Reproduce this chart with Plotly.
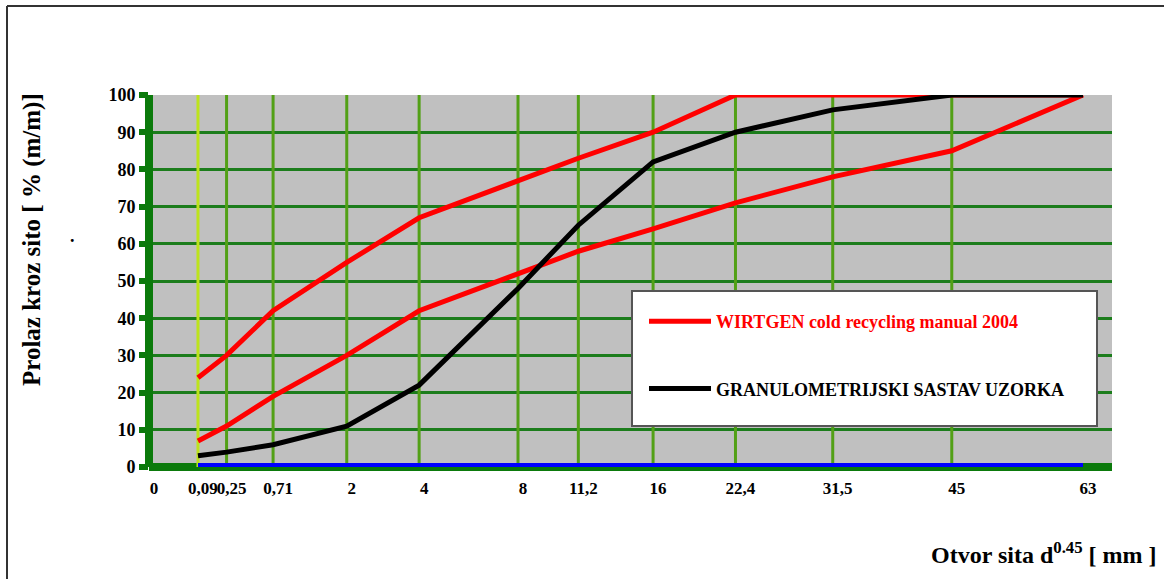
import plotly.graph_objects as go

# ---- data ----
sieve_sizes = [0.09, 0.25, 0.71, 2, 4, 8, 11.2, 16, 22.4, 31.5, 45, 63]
wirtgen_upper = [24, 30, 42, 55, 67, 77, 83, 90, 100, 100, 100, 100]
wirtgen_lower = [7, 11, 19, 30, 42, 52, 58, 64, 71, 78, 85, 100]
sample_passing = [3, 4, 6, 11, 22, 48, 65, 82, 90, 96, 100, 100]

tick_sizes = [0, 0.09, 0.25, 0.71, 2, 4, 8, 11.2, 16, 22.4, 31.5, 45, 63]
tick_labels = ["0", "0,09", "0,25", "0,71", "2", "4", "8", "11,2", "16", "22,4", "31,5", "45", "63"]
y_ticks = [0, 10, 20, 30, 40, 50, 60, 70, 80, 90, 100]

EXP = 0.45
def tx(d):
    return d ** EXP

xs = [tx(d) for d in sieve_sizes]

FONT = "Liberation Serif, Times New Roman, serif"
AXIS_GREEN = "#0b7a0b"
HGRID = "#1c7d1c"
VGRID = "#52a016"
VGRID_FIRST = "#bde31c"

# plot area in pixels
L, R, T, B = 149, 1112, 95, 467
PW, PH = R - L, B - T
def px(x):
    return (x - L) / PW
def py(y):
    return (B - y) / PH

fig = go.Figure()

fig.add_trace(go.Scatter(
    x=xs, y=wirtgen_upper, mode="lines",
    line=dict(color="#ff0000", width=5),
    name="<span style='color:#ff0000'>WIRTGEN cold recycling manual 2004</span>",
    legendgroup="w", showlegend=True, hoverinfo="skip"))
fig.add_trace(go.Scatter(
    x=xs, y=wirtgen_lower, mode="lines",
    line=dict(color="#ff0000", width=5),
    name="WIRTGEN cold recycling manual 2004",
    legendgroup="w", showlegend=False, hoverinfo="skip"))
fig.add_trace(go.Scatter(
    x=xs, y=sample_passing, mode="lines",
    line=dict(color="#000000", width=5),
    name="<span style='color:#000000'>GRANULOMETRIJSKI SASTAV UZORKA</span>",
    legendgroup="s", showlegend=True, hoverinfo="skip"))

shapes = []
# vertical grid lines at sieve sizes (except the last one)
for i, d in enumerate(sieve_sizes[:-1]):
    shapes.append(dict(type="line", xref="x", yref="y", x0=tx(d), x1=tx(d), y0=0, y1=100,
                       line=dict(color=VGRID_FIRST if i == 0 else VGRID, width=3), layer="between"))
# blue line along the x axis
shapes.append(dict(type="line", xref="x", yref="y", x0=tx(sieve_sizes[0]), x1=tx(sieve_sizes[-1]),
                   y0=0, y1=0, line=dict(color="#0000ff", width=8), layer="above"))
# legend box
shapes.append(dict(type="rect", xref="paper", yref="paper",
                   x0=px(632), x1=px(1097), y0=py(426), y1=py(291),
                   fillcolor="white", line=dict(color="#555555", width=2), layer="above"))
# outer frame (top and left edges)
shapes.append(dict(type="line", xref="paper", yref="paper",
                   x0=px(7), x1=px(1170), y0=py(6), y1=py(6),
                   line=dict(color="#333333", width=2)))
shapes.append(dict(type="line", xref="paper", yref="paper",
                   x0=px(7), x1=px(7), y0=py(6), y1=py(600),
                   line=dict(color="#333333", width=2)))

annotations = [
    dict(text="<b>Prolaz kroz sito [ % (m/m)]</b>", xref="paper", yref="paper",
         x=px(32), y=py(240), textangle=-90, showarrow=False,
         font=dict(family=FONT, size=25, color="black"), xanchor="center", yanchor="middle"),
    dict(text="<b>.</b>", xref="paper", yref="paper",
         x=px(68), y=py(236), showarrow=False,
         font=dict(family=FONT, size=18, color="black")),
    dict(text="<b>Otvor sita d<sup>0.45</sup> [ mm ]</b>", xref="paper", yref="paper",
         x=px(1159), y=py(553), showarrow=False, xanchor="right", yanchor="middle",
         font=dict(family=FONT, size=24, color="black")),
]

fig.update_layout(
    width=1164, height=579,
    margin=dict(l=L, r=1164 - R, t=T, b=579 - B),
    paper_bgcolor="white", plot_bgcolor="#c0c0c0",
    shapes=shapes, annotations=annotations,
    showlegend=True,
    legend=dict(x=px(644), y=py(303), xanchor="left", yanchor="top",
                bgcolor="rgba(0,0,0,0)", borderwidth=0, tracegroupgap=41,
                traceorder="grouped", itemwidth=62,
                font=dict(family=FONT, size=18, color="black", weight="bold")),
    xaxis=dict(range=[0, PW / (934 / tx(63))], tickvals=[tx(d) for d in tick_sizes],
               ticktext=tick_labels, showgrid=False, tickangle=0,
               zeroline=True, zerolinecolor=AXIS_GREEN, zerolinewidth=8,
               showline=False, ticks="", ticklabelstandoff=9, ticklabelshift=5,
               tickfont=dict(family=FONT, size=17, color="black", weight="bold")),
    yaxis=dict(range=[0, 100], tickvals=y_ticks, showgrid=True, gridcolor=HGRID, gridwidth=3,
               zeroline=True, zerolinecolor=AXIS_GREEN, zerolinewidth=8, showline=False,
               ticks="outside", ticklen=9, tickwidth=6, tickcolor=AXIS_GREEN,
               tickfont=dict(family=FONT, size=18, color="black", weight="bold")),
    yaxis2=dict(range=[0, 100], overlaying="y", matches="y", side="left", tickvals=y_ticks,
                ticks="inside", ticklen=11, tickwidth=6, tickcolor=AXIS_GREEN,
                showticklabels=False, showgrid=False, zeroline=False, showline=False),
)

fig.write_html("out.html", config={"displayModeBar": False},
               post_script="document.body.style.margin='0px';")
